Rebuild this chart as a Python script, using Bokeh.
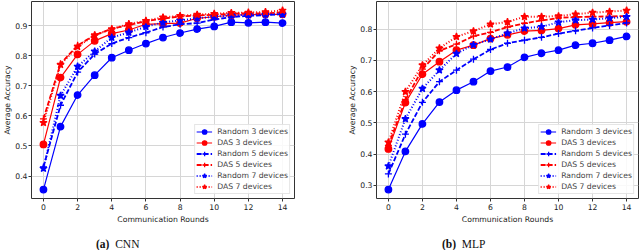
from bokeh.plotting import figure
from bokeh.models import Range1d, Legend, LegendItem, FixedTicker, Div
from bokeh.layouts import row, column
from bokeh.embed import file_html
from bokeh.resources import INLINE

rounds = list(range(15))
x_ticks = [0, 2, 4, 6, 8, 10, 12, 14]
cnn_y_ticks = [0.4, 0.5, 0.6, 0.7, 0.8, 0.9]
mlp_y_ticks = [0.3, 0.4, 0.5, 0.6, 0.7, 0.8]

series_labels = ["Random 3 devices", "DAS 3 devices", "Random 5 devices",
                 "DAS 5 devices", "Random 7 devices", "DAS 7 devices"]

cnn_random3 = [0.355, 0.564, 0.669, 0.735, 0.793, 0.818, 0.840, 0.860, 0.875, 0.888, 0.897, 0.911, 0.909, 0.911, 0.908]
cnn_das3 = [0.505, 0.727, 0.804, 0.849, 0.873, 0.885, 0.904, 0.906, 0.908, 0.924, 0.929, 0.934, 0.936, 0.937, 0.937]
cnn_random5 = [0.430, 0.635, 0.745, 0.805, 0.840, 0.860, 0.876, 0.895, 0.904, 0.908, 0.920, 0.928, 0.932, 0.934, 0.938]
cnn_das5 = [0.590, 0.773, 0.834, 0.868, 0.889, 0.902, 0.914, 0.923, 0.930, 0.933, 0.936, 0.939, 0.941, 0.940, 0.944]
cnn_random7 = [0.425, 0.667, 0.764, 0.814, 0.860, 0.877, 0.896, 0.910, 0.917, 0.924, 0.929, 0.934, 0.935, 0.937, 0.937]
cnn_das7 = [0.577, 0.770, 0.830, 0.868, 0.888, 0.905, 0.916, 0.927, 0.932, 0.936, 0.939, 0.942, 0.943, 0.945, 0.950]

mlp_random3 = [0.287, 0.409, 0.497, 0.567, 0.605, 0.632, 0.666, 0.679, 0.710, 0.723, 0.733, 0.749, 0.755, 0.765, 0.777]
mlp_das3 = [0.417, 0.565, 0.656, 0.696, 0.733, 0.749, 0.770, 0.782, 0.794, 0.796, 0.802, 0.814, 0.817, 0.821, 0.824]
mlp_random5 = [0.337, 0.464, 0.566, 0.632, 0.669, 0.704, 0.735, 0.755, 0.765, 0.774, 0.786, 0.795, 0.804, 0.812, 0.820]
mlp_das5 = [0.428, 0.574, 0.672, 0.731, 0.752, 0.778, 0.790, 0.807, 0.819, 0.828, 0.836, 0.839, 0.840, 0.841, 0.842]
mlp_random7 = [0.362, 0.513, 0.610, 0.669, 0.722, 0.750, 0.768, 0.787, 0.803, 0.808, 0.822, 0.829, 0.831, 0.835, 0.840]
mlp_das7 = [0.438, 0.600, 0.685, 0.739, 0.776, 0.794, 0.816, 0.823, 0.840, 0.840, 0.842, 0.848, 0.853, 0.856, 0.860]

FONT = "DejaVu Sans"
FS = "7.7px"
STYLES = [
    dict(color="#0000ff", dash="solid", width=1.2, marker="circle", size=6.5),
    dict(color="#ff0000", dash="solid", width=1.2, marker="circle", size=6.5),
    dict(color="#0000ff", dash="5 2", width=1.8, marker="cross", size=7),
    dict(color="#ff0000", dash="5 2", width=1.8, marker="cross", size=7),
    dict(color="#0000ff", dash="1 2", width=2.0, marker="star", size=7.5),
    dict(color="#ff0000", dash="1 2", width=2.0, marker="star", size=7.5),
]


def make_panel(series, yticks, frame_w, min_left, min_right):
    allv = [v for s in series for v in s]
    lo, hi = min(allv), max(allv)
    pad = (hi - lo) * 0.05
    p = figure(frame_width=frame_w, frame_height=197, output_backend="svg", toolbar_location=None,
               x_range=Range1d(-0.7, 14.7), y_range=Range1d(lo - pad, hi + pad),
               min_border_left=min_left, min_border_right=min_right,
               min_border_top=1, min_border_bottom=26)
    items = []
    for s, lab, st in zip(series, series_labels, STYLES):
        r1 = p.line(rounds, s, line_color=st["color"], line_width=st["width"], line_dash=st["dash"])
        r2 = p.scatter(rounds, s, marker=st["marker"], size=st["size"], fill_color=st["color"],
                       line_color=st["color"], line_width=1.3)
        items.append(LegendItem(label=lab, renderers=[r1, r2]))
    leg = Legend(items=items, location="bottom_right", label_text_font=FONT,
                 label_text_font_size=FS, glyph_height=11, glyph_width=16,
                 label_height=11, spacing=0, padding=1, margin=4, label_standoff=5,
                 border_line_color="#cccccc", border_line_width=1,
                 background_fill_alpha=0.85)
    p.add_layout(leg, "center")
    p.xaxis.ticker = FixedTicker(ticks=x_ticks)
    p.yaxis.ticker = FixedTicker(ticks=yticks)
    p.xaxis.axis_label = "Communication Rounds"
    p.yaxis.axis_label = "Average Accuracy"
    for ax in (p.xaxis, p.yaxis):
        ax.axis_label_text_font = FONT
        ax.axis_label_text_font_size = FS
        ax.axis_label_text_font_style = "normal"
        ax.axis_label_text_color = "#222222"
        ax.major_label_text_font = FONT
        ax.major_label_text_font_size = FS
        ax.major_label_text_color = "#222222"
        ax.axis_line_color = None
        ax.major_tick_line_color = "#333333"
        ax.major_tick_out = 3
        ax.major_tick_in = 0
        ax.minor_tick_line_color = None
    p.yaxis.major_label_standoff = 1
    p.yaxis.axis_label_standoff = 0
    p.xaxis.major_label_standoff = 2
    p.xaxis.axis_label_standoff = 2
    p.grid.grid_line_color = "#d6d6d6"
    p.grid.grid_line_width = 1
    p.outline_line_color = "#333333"
    p.outline_line_width = 1
    p.background_fill_color = "white"
    return p


p1 = make_panel([cnn_random3, cnn_das3, cnn_random5, cnn_das5, cnn_random7, cnn_das7],
                cnn_y_ticks, 263, 30, 51)
p2 = make_panel([mlp_random3, mlp_das3, mlp_random5, mlp_das5, mlp_random7, mlp_das7],
                mlp_y_ticks, 262, 30, 2)


def caption(tag, name, left, width):
    font = "font-family:'Liberation Serif','Times New Roman',serif;font-size:11.5px;color:#111;"
    html = (f'<div style="padding-left:{left}px;padding-top:12px;line-height:13px;white-space:nowrap;{font}">'
            f'<span style="font-weight:bold;{font}">{tag}</span>'
            f'<span style="{font}">&nbsp;&nbsp;{name}</span></div>')
    return Div(text=html, width=width, height=26, margin=0)


d1 = caption("(a)", "CNN", 96, 344)
d2 = caption("(b)", "MLP", 98, 294)

layout = column(row(p1, p2, spacing=0), row(d1, d2, spacing=0), spacing=0)
open("out.html", "w").write(file_html(layout, INLINE))
